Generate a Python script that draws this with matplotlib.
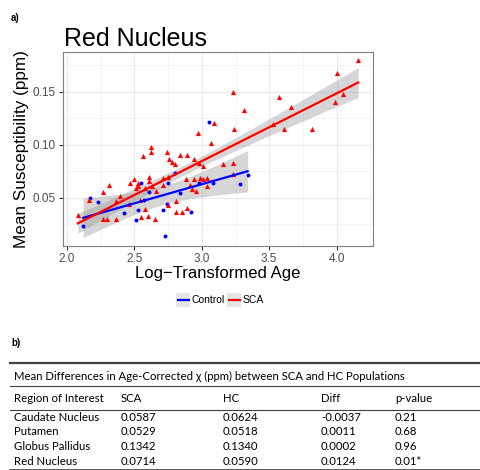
import numpy as np
import matplotlib
matplotlib.use('Agg')
import matplotlib.pyplot as plt
from matplotlib.lines import Line2D
from matplotlib.patches import Rectangle

# SCA (red triangles): log-transformed age vs mean susceptibility (ppm)
sca_age = [2.08, 2.16, 2.27, 2.31, 2.27, 2.30, 2.36, 2.39, 2.36, 2.50,
           2.51, 2.46, 2.54, 2.55, 2.58, 2.56, 2.62, 2.62, 2.60, 2.65,
           2.61, 2.61, 2.63, 2.58, 2.66, 2.71, 2.74, 2.75, 2.76, 2.78,
           2.80, 2.81, 2.81, 2.85, 2.89, 2.84, 2.89, 2.94, 2.97, 2.98,
           3.01, 3.07, 3.09, 3.16, 3.23, 2.88, 2.94, 2.99, 3.01, 2.91,
           2.93, 3.04, 3.23, 4.16, 4.00, 4.05, 3.99, 3.82, 3.66, 3.57,
           3.61, 3.53, 3.31, 3.23, 3.24, 2.47, 2.53, 2.71, 2.75, 2.96,
           3.04, 2.53]
sca_chi = [0.034, 0.048, 0.056, 0.062, 0.030, 0.030, 0.030, 0.052, 0.047, 0.068,
           0.059, 0.044, 0.048, 0.032, 0.040, 0.090, 0.098, 0.093, 0.033, 0.030,
           0.070, 0.066, 0.061, 0.059, 0.057, 0.062, 0.093, 0.043, 0.087, 0.084,
           0.082, 0.047, 0.037, 0.037, 0.041, 0.091, 0.091, 0.087, 0.111, 0.083,
           0.080, 0.102, 0.121, 0.082, 0.083, 0.068, 0.068, 0.069, 0.068, 0.062,
           0.058, 0.061, 0.073, 0.180, 0.168, 0.148, 0.141, 0.115, 0.136, 0.145,
           0.115, 0.120, 0.133, 0.150, 0.115, 0.064, 0.061, 0.069, 0.070, 0.057,
           0.069, 0.064]

# Control (blue circles)
ctrl_age = [2.12, 2.17, 2.23, 2.42, 2.51, 2.53, 2.55, 2.61, 2.71, 2.73,
            2.74, 2.75, 2.80, 2.84, 2.92, 2.98, 3.05, 3.08, 3.28, 3.34, 2.57]
ctrl_chi = [0.024, 0.050, 0.046, 0.036, 0.029, 0.039, 0.064, 0.056, 0.039, 0.014,
            0.044, 0.064, 0.074, 0.055, 0.037, 0.064, 0.122, 0.064, 0.063, 0.072, 0.048]

x_ticks = [2.0, 2.5, 3.0, 3.5, 4.0]
y_ticks = [0.05, 0.10, 0.15]

# table b)
tbl_title = 'Mean Differences in Age-Corrected \u03c7 (ppm) between SCA and HC Populations'
tbl_header = ['Region of Interest', 'SCA', 'HC', 'Diff', 'p-value']
tbl_regions = ['Caudate Nucleus', 'Putamen', 'Globus Pallidus', 'Red Nucleus']
tbl_sca = ['0.0587', '0.0529', '0.1342', '0.0714']
tbl_hc = ['0.0624', '0.0518', '0.1340', '0.0590']
tbl_diff = ['-0.0037', '0.0011', '0.0002', '0.0124']
tbl_p = ['0.21', '0.68', '0.96', '0.01*']

plt.rcParams['font.family'] = ['Liberation Sans', 'DejaVu Sans']

W, H = 480, 470
fig = plt.figure(figsize=(W / 100, H / 100), dpi=100)


def fx(px):
    return px / W


def fy(py):
    return 1 - py / H


ax = fig.add_axes([fx(63), fy(246), fx(373) - fx(63), fy(52) - fy(246)])


def smooth(x, y, n=80):
    x = np.asarray(x)
    y = np.asarray(y)
    b, a = np.polyfit(x, y, 1)
    resid = y - (a + b * x)
    df = len(x) - 2
    s = np.sqrt(np.sum(resid ** 2) / df)
    xm = x.mean()
    sxx = np.sum((x - xm) ** 2)
    xs = np.linspace(x.min(), x.max(), n)
    ys = a + b * xs
    t = 1.96 + 2.4 / df
    se = s * np.sqrt(1 / len(x) + (xs - xm) ** 2 / sxx)
    return xs, ys, ys - t * se, ys + t * se


for xa, ya, col in [(ctrl_age, ctrl_chi, '#0000FF'), (sca_age, sca_chi, '#FF0000')]:
    xs, ys, lo, hi = smooth(xa, ya)
    ax.fill_between(xs, lo, hi, color='#999999', alpha=0.4, lw=0, zorder=2)
    ax.plot(xs, ys, color=col, lw=1.6, zorder=4)

ax.scatter(ctrl_age, ctrl_chi, marker='o', s=8, color='#0000FF', lw=0, zorder=3)
ax.scatter(sca_age, sca_chi, marker='^', s=14, color='#FF0000', lw=0, zorder=3)

ax.set_xlim(1.97, 4.27)
ax.set_ylim(0.0047, 0.1877)
ax.set_xticks(x_ticks)
ax.set_xticklabels(['%.1f' % v for v in x_ticks])
ax.set_yticks(y_ticks)
ax.set_yticklabels(['%.2f' % v for v in y_ticks])
ax.set_xticks([2.25, 2.75, 3.25, 3.75, 4.25], minor=True)
ax.set_yticks([0.025, 0.075, 0.125, 0.175], minor=True)
ax.grid(True, which='major', color='#EBEBEB', lw=0.9)
ax.grid(True, which='minor', color='#F2F2F2', lw=0.6)
ax.set_axisbelow(True)
for sp in ax.spines.values():
    sp.set_color('#7F7F7F')
    sp.set_linewidth(0.8)
ax.tick_params(which='major', length=3, width=0.8, color='#333333',
               labelsize=8.5, labelcolor='#4D4D4D', pad=2)
ax.tick_params(which='minor', length=0)
ax.set_xlabel('Log\u2212Transformed Age', fontsize=12, labelpad=1)
ax.set_ylabel('Mean Susceptibility (ppm)', fontsize=12.3, labelpad=3)

fig.text(fx(64), fy(46), 'Red Nucleus', fontsize=18, ha='left', va='baseline')
fig.text(fx(11), fy(18), 'a)', fontsize=7, fontweight='bold', ha='left', va='center')

# legend
leg_y = 300
for kx, tx, lab, col in [(176, 192, 'Control', '#0000FF'), (227, 243, 'SCA', '#FF0000')]:
    fig.patches.append(Rectangle((fx(kx), fy(leg_y + 7)), fx(14), 14 / H,
                                 transform=fig.transFigure, color='#E5E5E5', lw=0))
    fig.add_artist(Line2D([fx(kx + 1.5), fx(kx + 12.5)], [fy(leg_y), fy(leg_y)],
                          color=col, lw=1.6, transform=fig.transFigure))
    fig.text(fx(tx), fy(leg_y), lab, fontsize=7.5, ha='left', va='center')

# table
fig.text(fx(11), fy(343), 'b)', fontsize=7, fontweight='bold', ha='left', va='center')
tfont = ['Lato', 'DejaVu Sans']
tsize = 8.2


def hline(py, lw):
    fig.add_artist(Line2D([fx(10), 1.0], [fy(py), fy(py)], color='#404040', lw=lw,
                          transform=fig.transFigure))


hline(362.5, 1.6)
hline(386, 0.8)
hline(409.5, 0.8)
hline(469.5, 1.2)

fig.text(fx(14), fy(376), tbl_title, fontsize=tsize, family=tfont, ha='left', va='center')
col_x = [14, 121, 223, 321, 395]
for cx, lab in zip(col_x, tbl_header):
    fig.text(fx(cx), fy(398), lab, fontsize=tsize, family=tfont, ha='left', va='center')
row_y = [417.5, 431.5, 446, 461.5]
for i, ry in enumerate(row_y):
    vals = [tbl_regions[i], tbl_sca[i], tbl_hc[i], tbl_diff[i], tbl_p[i]]
    for cx, v in zip(col_x, vals):
        fig.text(fx(cx), fy(ry), v, fontsize=tsize, family=tfont, ha='left', va='center')

fig.savefig('out.png', dpi=100)
